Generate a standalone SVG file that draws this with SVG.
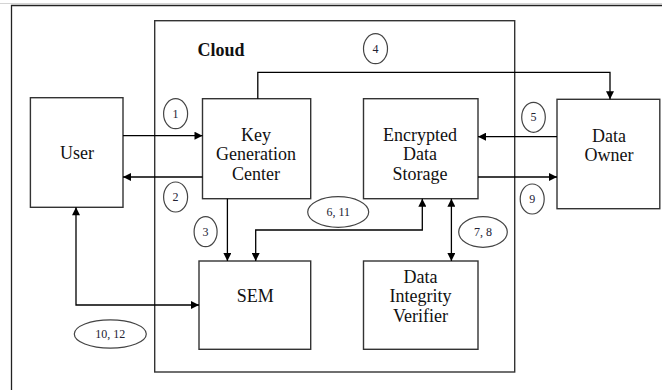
<svg xmlns="http://www.w3.org/2000/svg" width="662" height="390" viewBox="0 0 662 390">
  <defs>
    <marker id="arr" viewBox="0 0 10 10" refX="10" refY="5" markerWidth="9" markerHeight="8" markerUnits="userSpaceOnUse" orient="auto-start-reverse">
      <path d="M0,0 L10,5 L0,10 z" fill="#000"/>
    </marker>
    <style>
      .box { fill: #fff; stroke: #333; stroke-width: 1.4; }
      .cloud { fill: none; stroke: #333; stroke-width: 1.4; }
      .lbl { font-family: "Liberation Serif", "Times New Roman", serif; font-size: 18px; fill: #111; text-anchor: middle; }
      .num { font-family: "Liberation Serif", "Times New Roman", serif; font-size: 12px; fill: #223; text-anchor: middle; }
      .oval { fill: #fff; stroke: #444; stroke-width: 1.2; }
      .conn { fill: none; stroke: #000; stroke-width: 1.3; }
    </style>
  </defs>
  <rect width="662" height="390" fill="#fff"/>
  <line x1="0" y1="3.5" x2="662" y2="3.5" stroke="#d4d4d4" stroke-width="1"/>
  <path d="M11.5,390 V5.5 H662" fill="none" stroke="#222" stroke-width="1.3"/>

  <g id="cloud">
    <rect class="cloud" x="154.7" y="20.7" width="360" height="351.3"/>
    <text x="197.5" y="55.5" style="font-family:'Liberation Serif','Times New Roman',serif;font-size:18px;font-weight:bold;fill:#111">Cloud</text>
  </g>

  <g id="user">
    <rect class="box" x="30.4" y="97.7" width="92.6" height="109.6"/>
    <text class="lbl" x="77" y="158.5">User</text>
  </g>

  <g id="kgc">
    <rect class="box" x="202.5" y="98.7" width="108.2" height="100"/>
    <text class="lbl" x="256" y="140.5">Key</text>
    <text class="lbl" x="256" y="160.3">Generation</text>
    <text class="lbl" x="256" y="180">Center</text>
  </g>

  <g id="eds">
    <rect class="box" x="363.5" y="98.7" width="114.5" height="100"/>
    <text class="lbl" x="420" y="140.5">Encrypted</text>
    <text class="lbl" x="420" y="160.2">Data</text>
    <text class="lbl" x="420" y="179.5">Storage</text>
  </g>

  <g id="owner">
    <rect class="box" x="557" y="99.3" width="102.8" height="109.4"/>
    <text class="lbl" x="609" y="141.7">Data</text>
    <text class="lbl" x="609" y="161">Owner</text>
  </g>

  <g id="sem">
    <rect class="box" x="199" y="261" width="111.7" height="88.3"/>
    <text class="lbl" x="255.3" y="302">SEM</text>
  </g>

  <g id="div">
    <rect class="box" x="363.5" y="261" width="114.5" height="88.3"/>
    <text class="lbl" x="420.5" y="282.7">Data</text>
    <text class="lbl" x="420.5" y="302.3">Integrity</text>
    <text class="lbl" x="420.5" y="321.7">Verifier</text>
  </g>

  <g id="connectors">
    <path class="conn" d="M257.8,98.7 V72.3 H610 V99.3" marker-end="url(#arr)"/>
    <path class="conn" d="M123,135.7 H202.5" marker-end="url(#arr)"/>
    <path class="conn" d="M202.5,177 H123" marker-end="url(#arr)"/>
    <path class="conn" d="M557,136.7 H478" marker-end="url(#arr)"/>
    <path class="conn" d="M478,177 H557" marker-end="url(#arr)"/>
    <path class="conn" d="M227.4,198.7 V261" marker-end="url(#arr)"/>
    <path class="conn" d="M255.7,261 V230 H422.3 V198.7" marker-start="url(#arr)" marker-end="url(#arr)"/>
    <path class="conn" d="M451.4,198.7 V261" marker-start="url(#arr)" marker-end="url(#arr)"/>
    <path class="conn" d="M76,207.3 V305 H199" marker-start="url(#arr)" marker-end="url(#arr)"/>
  </g>

  <g id="step-labels">
    <g id="s1"><ellipse class="oval" cx="175.6" cy="113.7" rx="12" ry="15"/><text class="num" x="175.6" y="117.7">1</text></g>
    <g id="s2"><ellipse class="oval" cx="175.6" cy="197" rx="12" ry="15"/><text class="num" x="175.6" y="201">2</text></g>
    <g id="s3"><ellipse class="oval" cx="205.6" cy="231.7" rx="11.5" ry="15"/><text class="num" x="205.6" y="235.7">3</text></g>
    <g id="s4"><ellipse class="oval" cx="375.5" cy="48.7" rx="12" ry="15"/><text class="num" x="375.5" y="52.7">4</text></g>
    <g id="s5"><ellipse class="oval" cx="533.5" cy="117.3" rx="11.8" ry="15"/><text class="num" x="533.5" y="121.3">5</text></g>
    <g id="s9"><ellipse class="oval" cx="532.2" cy="199" rx="12" ry="15"/><text class="num" x="532.2" y="203">9</text></g>
    <g id="s6-11"><ellipse class="oval" cx="338.2" cy="212" rx="30.5" ry="15.3"/><text class="num" x="338.2" y="216">6, 11</text></g>
    <g id="s7-8"><ellipse class="oval" cx="483" cy="232" rx="24.3" ry="15.3"/><text class="num" x="483" y="236">7, 8</text></g>
    <g id="s10-12"><ellipse class="oval" cx="110.3" cy="334" rx="36" ry="14.2"/><text class="num" x="110.3" y="338">10, 12</text></g>
  </g>
</svg>
